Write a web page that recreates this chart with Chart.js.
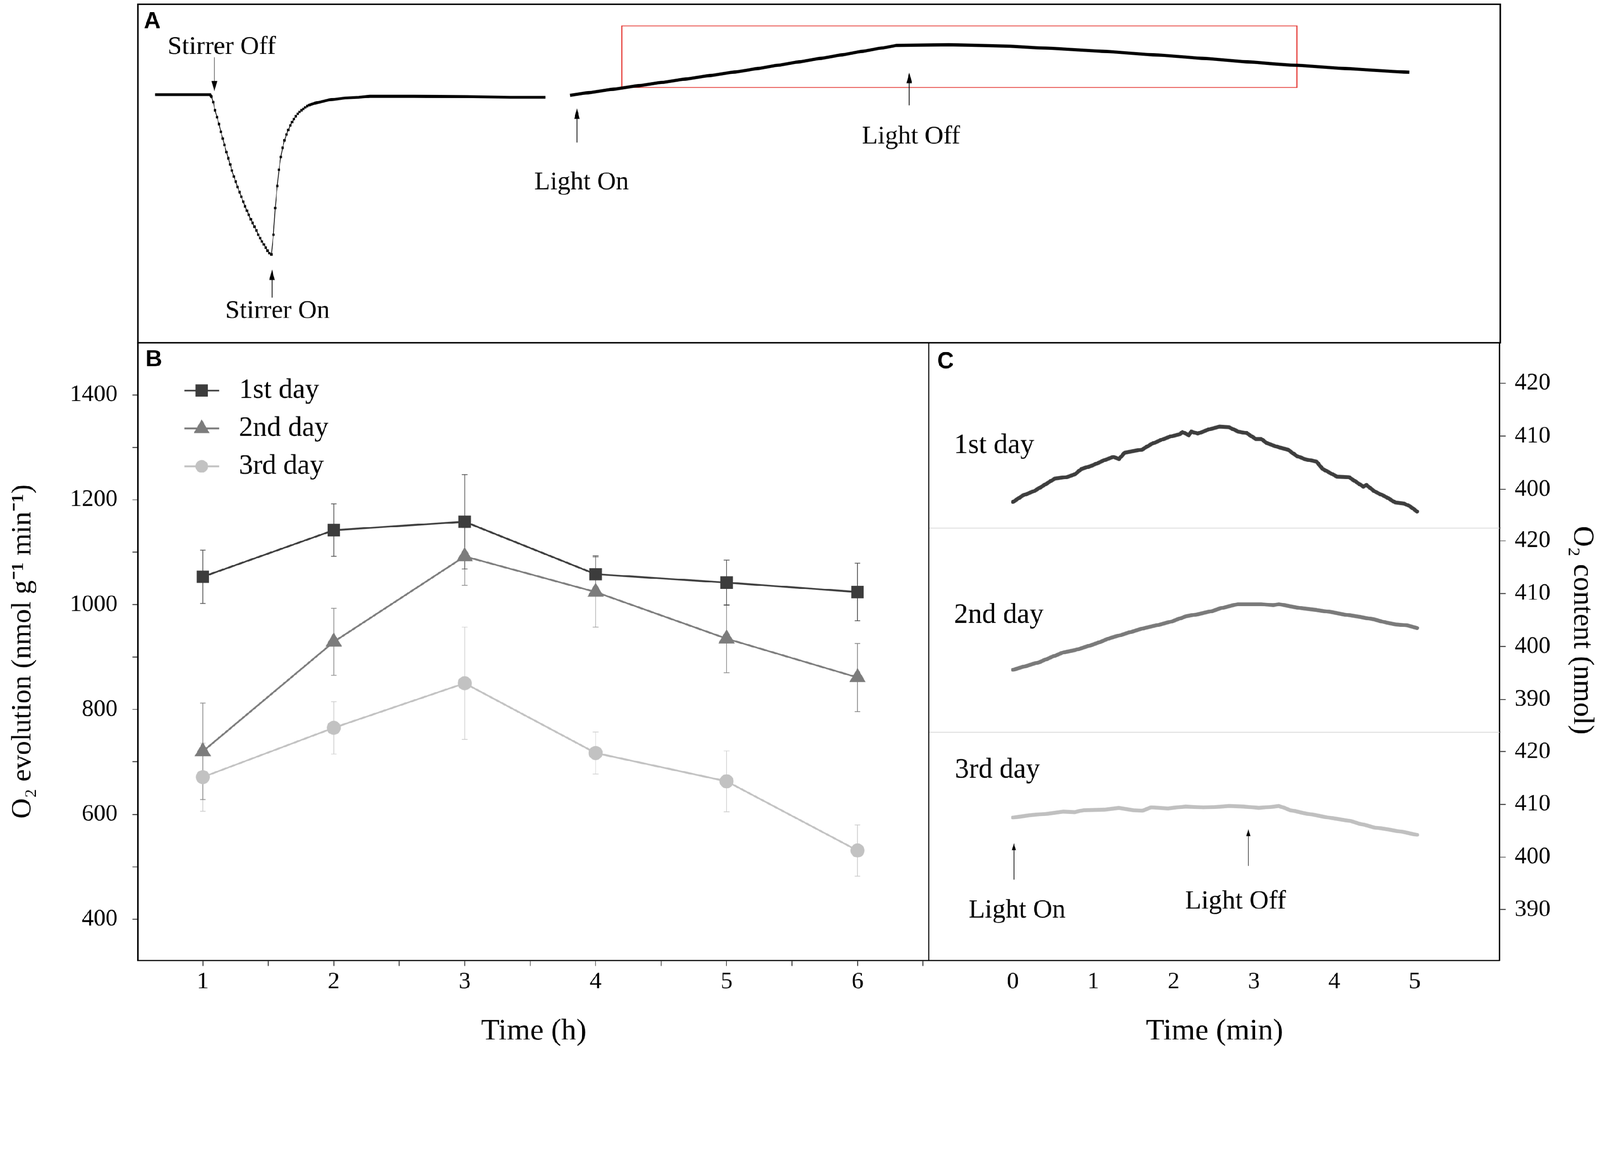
<!DOCTYPE html>
<html lang="en">
<head>
<meta charset="utf-8">
<title>O2 evolution of the samples</title>
<script src="https://cdn.jsdelivr.net/npm/chart.js@4.4.1/dist/chart.umd.min.js"></script>
<style>
  html, body { margin: 0; padding: 0; background: #ffffff; overflow: hidden; }
  #page { position: relative; overflow: hidden; background: #ffffff; }
  #fig { position: absolute; left: 0; top: 0; width: 4562px; height: 2994px; transform-origin: 0 0; }
  canvas { position: absolute; }
  #chartA { left: 380px; top: 0; }
  #chartB { left: 0; top: 976px; }
  #chartC { left: 2650px; top: 976px; }
</style>
</head>
<body>
<div id="page">
  <div id="fig">
    <canvas id="chartA" width="3910" height="990"></canvas>
    <canvas id="chartB" width="2650" height="2018"></canvas>
    <canvas id="chartC" width="1912" height="2018"></canvas>
  </div>
</div>
<script>
// ---- panel A: raw electrode trace (arbitrary time and signal units, no axes shown) ----
const stirTime = [12.6, 53.0, 54.0, 55.4, 56.6, 58.2, 59.5, 61.0, 62.3, 63.6, 65.0, 66.4, 67.8, 69.0, 70.5, 71.8,
  73.2, 74.6, 76.0, 77.3, 78.7, 80.1, 81.4, 82.9, 84.2, 85.6, 87.0, 88.4, 89.7, 91.1, 92.5, 93.9, 95.2, 96.5, 98.0,
  99.5, 100.8, 102.3, 103.6, 104.9, 106.3, 107.6, 109.1, 110.4, 111.9, 113.2, 114.5, 116.0, 117.3, 118.7, 120.1,
  121.5, 122.8, 124.3, 125.6, 131.1, 141.4, 151.8, 162.1, 170.4, 202.6, 241.2, 273.4, 299.2];
const stirSignal = [73.3, 73.3, 72.7, 71.1, 68.7, 66.6, 64.6, 62.3, 60.3, 58.4, 56.3, 54.5, 52.7, 50.9, 49.1, 47.6,
  46.0, 44.5, 43.1, 41.7, 40.3, 39.0, 37.8, 36.5, 35.4, 34.3, 33.2, 31.9, 30.9, 29.9, 29.0, 28.1, 27.2, 26.5, 26.1,
  31.9, 39.8, 46.3, 51.1, 54.9, 57.6, 59.8, 61.5, 62.9, 64.2, 65.2, 66.1, 66.9, 67.6, 68.2, 68.7,
  69.1, 69.5, 69.9, 70.2, 70.9, 71.8, 72.3, 72.5, 72.8, 72.8, 72.7, 72.5, 72.5];
const lightTime = [317.2, 382.9, 447.2, 511.6, 556.6, 595.3, 640.3, 704.7, 769.1, 833.4, 897.8, 933.2];
const lightSignal = [73.1, 76.8, 80.5, 84.7, 87.8, 88.0, 87.6, 86.2, 84.4, 82.4, 80.7, 79.9];

// ---- panel B: O2 evolution (nmol g-1 min-1) per hour, mean and error ----
const hours = [1, 2, 3, 4, 5, 6];
const rateDay1 = [1053, 1142, 1158, 1058, 1042, 1024];
const errDay1 = [51, 50, 90, 35, 43, 55];
const rateDay2 = [720, 929, 1092, 1024, 935, 861];
const errDay2 = [92, 64, 55, 67, 65, 65];
const rateDay3 = [671, 765, 850, 717, 663, 531];
const errDay3 = [65, 50, 107, 40, 58, 49];
const hourTicks = [1, 1.5, 2, 2.5, 3, 3.5, 4, 4.5, 5, 5.5, 6, 6.5];
const rateTicks = [400, 500, 600, 700, 800, 900, 1000, 1100, 1200, 1300, 1400];

// ---- panel C: O2 content (nmol) over time (min) ----
const minDay1 = [0.00, 0.12, 0.27, 0.39, 0.52, 0.67, 0.77, 0.85, 0.99, 1.14, 1.25, 1.32, 1.39, 1.50, 1.61, 1.72,
  1.86, 1.97, 2.08, 2.11, 2.19, 2.22, 2.30, 2.44, 2.57, 2.69, 2.80, 2.91, 3.02, 3.09, 3.16, 3.31, 3.42, 3.53, 3.63,
  3.78, 3.85, 3.92, 4.03, 4.18, 4.29, 4.36, 4.40, 4.50, 4.65, 4.76, 4.87, 4.94, 5.03];
const o2Day1 = [397.6, 398.8, 399.7, 400.8, 402.0, 402.3, 402.8, 403.8, 404.5, 405.5, 406.1, 405.7, 406.9, 407.2,
  407.5, 408.5, 409.4, 410.0, 410.4, 410.8, 410.2, 410.9, 410.5, 411.3, 411.8, 411.7, 410.9, 410.6, 409.5, 409.5,
  408.7, 407.9, 407.5, 406.3, 405.7, 405.2, 403.9, 403.3, 402.4, 402.3, 401.2, 400.5, 400.8, 399.6, 398.5, 397.5,
  397.3, 396.8, 395.8];
const minDay2 = [0.00, 0.16, 0.34, 0.48, 0.63, 0.77, 0.92, 1.06, 1.21, 1.35, 1.50, 1.64, 1.79, 1.97, 2.15, 2.30,
  2.48, 2.58, 2.69, 2.80, 2.95, 3.09, 3.24, 3.31, 3.45, 3.60, 3.78, 3.96, 4.14, 4.32, 4.50, 4.65, 4.76, 4.90, 5.03];
const o2Day2 = [395.6, 396.3, 397.1, 398.0, 398.9, 399.3, 400.0, 400.7, 401.6, 402.2, 402.9, 403.5, 404.0, 404.7,
  405.7, 406.1, 406.7, 407.2, 407.6, 408.0, 408.0, 408.0, 407.8, 408.0, 407.6, 407.2, 406.9, 406.5, 406.0, 405.6,
  405.1, 404.5, 404.2, 404.0, 403.5];
const minDay3 = [0.00, 0.20, 0.41, 0.63, 0.77, 0.88, 1.14, 1.32, 1.50, 1.61, 1.72, 1.93, 2.15, 2.37, 2.51, 2.69,
  2.87, 3.06, 3.20, 3.31, 3.45, 3.60, 3.78, 3.96, 4.18, 4.32, 4.50, 4.68, 4.87, 5.03];
const o2Day3 = [407.5, 407.9, 408.2, 408.6, 408.5, 408.9, 409.0, 409.3, 408.9, 408.8, 409.4, 409.2, 409.6, 409.4,
  409.5, 409.7, 409.6, 409.3, 409.5, 409.7, 408.9, 408.4, 407.9, 407.4, 406.9, 406.3, 405.6, 405.2, 404.7, 404.2];
const minuteTicks = [0, 1, 2, 3, 4, 5];
const contentTicks = [390, 400, 410, 420];

// annotations, in data units of each panel
const stirMarks = [
  { text: 'Stirrer Off', t: 56.2, from: 84.3, to: 74.2, labelT: 61.5, labelY: 87.3 },
  { text: 'Stirrer On', t: 98.5, from: 13.3, to: 21.6, labelT: 102.5, labelY: 9.3 },
  { text: 'Light On', t: 322.3, from: 59.2, to: 69.2, labelT: 325.7, labelY: 47.3 },
  { text: 'Light Off', t: 566.2, from: 70.1, to: 79.8, labelT: 567.5, labelY: 60.9 }
];
const zoomBox = { t0: 355.2, t1: 850.8, y0: 75.4, y1: 93.6 };
const dayLabels = [
  { text: '1st day', axis: 'yC1', t: -0.734, y: 408.2 },
  { text: '2nd day', axis: 'yC2', t: -0.734, y: 405.9 },
  { text: '3rd day', axis: 'yC3', t: -0.72, y: 416.5 }
];
const lightMarks = [
  { text: 'Light On', t: 0.013, from: 395.7, to: 402.6, labelT: 0.052, labelY: 389.8 },
  { text: 'Light Off', t: 2.93, from: 398.3, to: 405.3, labelT: 2.77, labelY: 391.5 }
];

// the figure is laid out on a 4562 x 2994 grid; shrink it to the window if the window is smaller
const FIG_W = 4562, FIG_H = 2994;
const fitScale = Math.min(window.innerWidth / FIG_W, window.innerHeight / FIG_H, 1) || 1;
const page = document.getElementById('page');
page.style.width = (FIG_W * fitScale) + 'px';
page.style.height = (FIG_H * fitScale) + 'px';
document.getElementById('fig').style.transform = 'scale(' + fitScale + ')';
const pixelRatio = (window.devicePixelRatio || 1) * fitScale;

const SERIF = "'Liberation Serif', 'Times New Roman', serif";
const SANS = "'Liberation Sans', Arial, sans-serif";
Chart.defaults.font.family = SERIF;
Chart.defaults.color = '#000';

function pairs(xs, ys) {
  return xs.map((x, i) => ({ x: x, y: ys[i] }));
}

function drawArrow(ctx, x, yFrom, yTo, head, half, width) {
  const dir = yTo > yFrom ? 1 : -1;
  ctx.save();
  ctx.strokeStyle = '#000';
  ctx.fillStyle = '#000';
  ctx.lineWidth = width;
  ctx.beginPath();
  ctx.moveTo(x, yFrom);
  ctx.lineTo(x, yTo - dir * head * 0.7);
  ctx.stroke();
  ctx.beginPath();
  ctx.moveTo(x, yTo);
  ctx.lineTo(x - half, yTo - dir * head);
  ctx.lineTo(x + half, yTo - dir * head);
  ctx.closePath();
  ctx.fill();
  ctx.restore();
}

function drawMarker(ctx, style, x, y, r) {
  ctx.beginPath();
  if (style === 'rect') {
    const s = r * Math.SQRT1_2;
    ctx.rect(x - s, y - s, 2 * s, 2 * s);
  } else if (style === 'triangle') {
    ctx.moveTo(x, y - r);
    ctx.lineTo(x + r * 0.866, y + r * 0.5);
    ctx.lineTo(x - r * 0.866, y + r * 0.5);
    ctx.closePath();
  } else {
    ctx.arc(x, y, r, 0, Math.PI * 2);
  }
  ctx.fill();
}

function panelLetter(ctx, letter, x, y) {
  ctx.save();
  ctx.fillStyle = '#000';
  ctx.font = 'bold 66px ' + SANS;
  ctx.textAlign = 'left';
  ctx.textBaseline = 'middle';
  ctx.fillText(letter, x, y);
  ctx.restore();
}

function label(ctx, text, x, y, size, align) {
  ctx.save();
  ctx.fillStyle = '#000';
  ctx.font = size + 'px ' + SERIF;
  ctx.textAlign = align;
  ctx.textBaseline = 'middle';
  ctx.fillText(text, x, y);
  ctx.restore();
}

const baseOptions = {
  responsive: false,
  animation: false,
  devicePixelRatio: pixelRatio,
  events: [],
  plugins: { legend: { display: false }, tooltip: { enabled: false } }
};

// ---------------- panel A ----------------
const panelA = {
  id: 'panelA',
  beforeDatasetsDraw(chart) {
    const { ctx, scales: { x, y } } = chart;
    ctx.save();
    ctx.strokeStyle = '#e53935';
    ctx.lineWidth = 3;
    const l = x.getPixelForValue(zoomBox.t0), r = x.getPixelForValue(zoomBox.t1);
    const t = y.getPixelForValue(zoomBox.y1), b = y.getPixelForValue(zoomBox.y0);
    ctx.strokeRect(l, t, r - l, b - t);
    ctx.restore();
  },
  afterDraw(chart) {
    const { ctx, chartArea: a, scales: { x, y } } = chart;
    stirMarks.forEach(m => {
      drawArrow(ctx, x.getPixelForValue(m.t), y.getPixelForValue(m.from), y.getPixelForValue(m.to), 30, 8, 2);
      label(ctx, m.text, x.getPixelForValue(m.labelT), y.getPixelForValue(m.labelY), 74, 'center');
    });
    ctx.save();
    ctx.strokeStyle = '#000';
    ctx.lineWidth = 4;
    ctx.strokeRect(a.left, a.top, a.right - a.left, a.bottom - a.top);
    ctx.restore();
    panelLetter(ctx, 'A', a.left + 17, a.top + 50);
  }
};

new Chart(document.getElementById('chartA'), {
  type: 'line',
  data: {
    datasets: [
      {
        data: pairs(stirTime, stirSignal),
        borderColor: '#000',
        backgroundColor: '#000',
        borderWidth: 8,
        tension: 0,
        pointStyle: 'rect',
        pointBorderWidth: 0,
        pointBackgroundColor: '#000',
        pointRadius: c => (c.raw && c.raw.x >= 54 && c.raw.x <= 126) ? 4.8 : 0,
        segment: {
          borderWidth: c => (c.p0.parsed.x >= 53.9 && c.p1.parsed.x <= 126) ? 2 : 8
        }
      },
      {
        data: pairs(lightTime, lightSignal),
        borderColor: '#000',
        borderWidth: 9,
        borderJoinStyle: 'round',
        tension: 0,
        pointRadius: 0
      }
    ]
  },
  options: Object.assign({}, baseOptions, {
    layout: { autoPadding: false, padding: { left: 13, top: 12, right: 13, bottom: 14 } },
    scales: {
      x: { type: 'linear', min: 0, max: 1000, display: false },
      y: { type: 'linear', min: 0, max: 100, display: false }
    }
  }),
  plugins: [panelA]
});

// ---------------- panel B ----------------
const seriesB = [
  { label: '1st day', values: rateDay1, errors: errDay1, color: '#3c3c3c', errColor: '#4e4e4e', marker: 'rect', size: 25, legendSize: 25 },
  { label: '2nd day', values: rateDay2, errors: errDay2, color: '#7c7c7c', errColor: '#8a8a8a', marker: 'triangle', size: 27, legendSize: 26 },
  { label: '3rd day', values: rateDay3, errors: errDay3, color: '#c2c2c2', errColor: '#cecece', marker: 'circle', size: 20, legendSize: 18 }
];

const panelB = {
  id: 'panelB',
  beforeDatasetsDraw(chart) {
    const { ctx, scales: { x, y } } = chart;
    ctx.save();
    ctx.lineWidth = 2;
    seriesB.slice().reverse().forEach(s => {
      ctx.strokeStyle = s.errColor;
      hours.forEach((h, i) => {
        const px = x.getPixelForValue(h);
        const top = y.getPixelForValue(s.values[i] + s.errors[i]);
        const bot = y.getPixelForValue(s.values[i] - s.errors[i]);
        ctx.beginPath();
        ctx.moveTo(px, top); ctx.lineTo(px, bot);
        ctx.moveTo(px - 8, top); ctx.lineTo(px + 8, top);
        ctx.moveTo(px - 8, bot); ctx.lineTo(px + 8, bot);
        ctx.stroke();
      });
    });
    ctx.restore();
  },
  afterDraw(chart) {
    const { ctx, chartArea: a } = chart;
    // divider between panels B and C
    ctx.save();
    ctx.strokeStyle = '#000';
    ctx.lineWidth = 4;
    ctx.beginPath();
    ctx.moveTo(a.right - 2, a.top);
    ctx.lineTo(a.right - 2, a.bottom);
    ctx.stroke();
    ctx.restore();
    // legend: line with marker, then label
    seriesB.forEach((s, i) => {
      const yRow = a.top + 137 + 108 * i;
      ctx.save();
      ctx.strokeStyle = s.color;
      ctx.fillStyle = s.color;
      ctx.lineWidth = 5;
      ctx.beginPath();
      ctx.moveTo(a.left + 133, yRow);
      ctx.lineTo(a.left + 232, yRow);
      ctx.stroke();
      drawMarker(ctx, s.marker, a.left + 182, yRow, s.legendSize);
      ctx.restore();
      label(ctx, s.label, a.left + 288, yRow, 80, 'left');
    });
    panelLetter(ctx, 'B', a.left + 22, a.top + 50);
  }
};

new Chart(document.getElementById('chartB'), {
  type: 'line',
  data: {
    datasets: seriesB.map(s => ({
      label: s.label,
      data: pairs(hours, s.values),
      borderColor: s.color,
      backgroundColor: s.color,
      borderWidth: 5,
      tension: 0,
      pointStyle: s.marker,
      pointRadius: s.size,
      pointBorderWidth: 0,
      pointBackgroundColor: s.color
    }))
  },
  options: Object.assign({}, baseOptions, {
    layout: { autoPadding: false, padding: 0 },
    scales: {
      x: {
        type: 'linear', min: 0.504, max: 6.55,
        afterBuildTicks: s => { s.ticks = hourTicks.map(v => ({ value: v })); },
        afterFit: s => { s.height = 257; s.paddingLeft = 0; s.paddingRight = 0; },
        border: { display: true, color: '#000', width: 4 },
        grid: { drawOnChartArea: false, drawTicks: true, tickLength: 15, tickWidth: 2, tickColor: '#000' },
        ticks: { autoSkip: false, maxRotation: 0, padding: 5, color: '#000', font: { size: 68 },
          callback: v => Number.isInteger(v) ? String(v) : '' },
        title: { display: true, text: 'Time (h)', color: '#000', font: { size: 86 }, padding: { bottom: 3 } }
      },
      y: {
        type: 'linear', min: 321, max: 1500,
        afterBuildTicks: s => { s.ticks = rateTicks.map(v => ({ value: v })); },
        afterFit: s => { s.width = 393; s.paddingTop = 0; s.paddingBottom = 0; },
        border: { display: true, color: '#000', width: 4 },
        grid: { drawOnChartArea: false, drawTicks: true, tickLength: 15, tickWidth: 2, tickColor: '#000' },
        ticks: { autoSkip: false, padding: 43, color: '#000', font: { size: 68 },
          callback: v => v % 200 === 0 ? String(v) : '' },
        title: { display: true, text: 'O₂ evolution (nmol g⁻¹ min⁻¹)', color: '#000', font: { size: 80 }, padding: { top: 18 } }
      }
    }
  }),
  plugins: [panelB]
});

// ---------------- panel C ----------------
const seriesC = [
  { label: '1st day', minutes: minDay1, values: o2Day1, axis: 'yC1', color: '#3e3e3e' },
  { label: '2nd day', minutes: minDay2, values: o2Day2, axis: 'yC2', color: '#7a7a7a' },
  { label: '3rd day', minutes: minDay3, values: o2Day3, axis: 'yC3', color: '#c0c0c0' }
];

function contentAxis(min, max, weight, withTitle) {
  return {
    type: 'linear', position: 'right', stack: 'o2', stackWeight: weight, min: min, max: max,
    afterBuildTicks: s => { s.ticks = contentTicks.filter(v => v >= min && v <= max).map(v => ({ value: v })); },
    afterFit: s => { s.width = 287; s.paddingTop = 0; s.paddingBottom = 0; },
    border: { display: true, color: '#000', width: 4 },
    grid: { drawOnChartArea: false, drawTicks: true, tickLength: 18, tickWidth: 2, tickColor: '#000' },
    ticks: { autoSkip: false, padding: 25, color: '#000', font: { size: 68 } },
    title: { display: withTitle, text: 'O₂ content (nmol)', color: '#000', font: { size: 82 }, padding: { top: 3 } }
  };
}

const panelC = {
  id: 'panelC',
  afterDraw(chart) {
    const { ctx, chartArea: a, scales } = chart;
    ctx.save();
    ctx.strokeStyle = '#d9d9d9';
    ctx.lineWidth = 2;
    ['yC1', 'yC2'].forEach(id => {
      const yb = scales[id].bottom;
      ctx.beginPath();
      ctx.moveTo(a.left, yb);
      ctx.lineTo(a.right, yb);
      ctx.stroke();
    });
    ctx.restore();
    dayLabels.forEach(d => {
      label(ctx, d.text, scales.x.getPixelForValue(d.t), scales[d.axis].getPixelForValue(d.y), 80, 'left');
    });
    lightMarks.forEach(m => {
      const y3 = scales.yC3;
      drawArrow(ctx, scales.x.getPixelForValue(m.t), y3.getPixelForValue(m.from), y3.getPixelForValue(m.to), 20, 6, 2);
      label(ctx, m.text, scales.x.getPixelForValue(m.labelT), y3.getPixelForValue(m.labelY), 76, 'center');
    });
    panelLetter(ctx, 'C', a.left + 22, a.top + 55);
  }
};

new Chart(document.getElementById('chartC'), {
  type: 'line',
  data: {
    datasets: seriesC.map(s => ({
      label: s.label,
      data: pairs(s.minutes, s.values),
      yAxisID: s.axis,
      borderColor: s.color,
      borderWidth: 11,
      borderJoinStyle: 'round',
      borderCapStyle: 'round',
      tension: 0,
      pointRadius: 0
    }))
  },
  options: Object.assign({}, baseOptions, {
    layout: { autoPadding: false, padding: 0 },
    scales: {
      x: {
        type: 'linear', min: -1.039, max: 6.057,
        afterBuildTicks: s => { s.ticks = minuteTicks.map(v => ({ value: v })); },
        afterFit: s => { s.height = 257; s.paddingLeft = 0; s.paddingRight = 0; },
        border: { display: true, color: '#000', width: 4 },
        grid: { drawOnChartArea: false, drawTicks: true, tickLength: 15, tickWidth: 2, tickColor: 'rgba(0,0,0,0)' },
        ticks: { autoSkip: false, maxRotation: 0, padding: 5, color: '#000', font: { size: 68 } },
        title: { display: true, text: 'Time (min)', color: '#000', font: { size: 86 }, padding: { bottom: 3 } }
      },
      yC1: contentAxis(392.65, 427.7, 529.5, false),
      yC2: contentAxis(383.8, 422.35, 581.5, true),
      yC3: contentAxis(380.3, 423.7, 651, false)
    }
  }),
  plugins: [panelC]
});
</script>
</body>
</html>
